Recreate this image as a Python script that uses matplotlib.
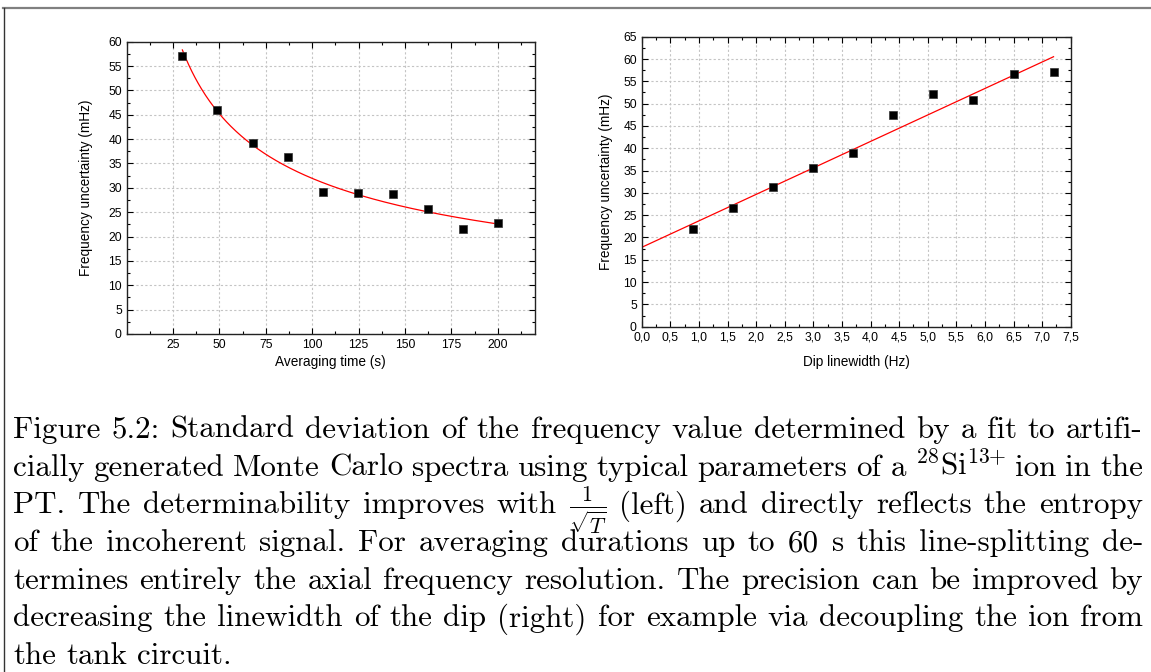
import numpy as np
import matplotlib
matplotlib.use('Agg')
import matplotlib.pyplot as plt
from matplotlib.ticker import MultipleLocator, FixedLocator, FuncFormatter
from matplotlib.lines import Line2D

plt.rcParams['font.family'] = ['Liberation Sans', 'DejaVu Sans']
plt.rcParams['mathtext.fontset'] = 'cm'

# 左图: 平均时间 vs 频率不确定度
avg_time = [30, 48.9, 67.8, 86.7, 105.6, 124.4, 143.3, 162.2, 181.1, 200]
unc_time = [57.0, 46.0, 39.2, 36.4, 29.2, 28.9, 28.8, 25.6, 21.6, 22.8]

# 右图: dip 线宽 vs 频率不确定度
dip_width = [0.9, 1.6, 2.3, 3.0, 3.7, 4.4, 5.1, 5.8, 6.5, 7.2]
unc_width = [21.8, 26.5, 31.2, 35.5, 38.9, 47.5, 52.2, 50.9, 56.7, 57.0]

caption_lines = [
    "Figure 5.2:  Standard deviation of the frequency value determined by a fit to artifi-",
    "cially generated Monte Carlo spectra using typical parameters of a $^{28}$Si$^{13{+}}$ ion in the",
    r"PT. The determinability improves with $\frac{1}{\sqrt{T}}$ (left) and directly reflects the entropy",
    "of the incoherent signal.  For averaging durations up to 60 s this line-splitting de-",
    "termines entirely the axial frequency resolution.  The precision can be improved by",
    "decreasing the linewidth of the dip (right) for example via decoupling the ion from",
    "the tank circuit.",
]

W, H = 1151, 672
fig = plt.figure(figsize=(W / 100, H / 100), dpi=100)


def style_axes(ax):
    ax.set_axisbelow(True)
    ax.grid(True, which='major', color='#c4c4c4', linestyle=(0, (2, 2)), linewidth=0.8)
    ax.tick_params(which='both', direction='in', top=True, right=True, labelsize=8.7, pad=3.5)
    ax.tick_params(which='major', length=4.5, width=0.8)
    ax.tick_params(which='minor', length=2.5, width=0.8)
    for s in ax.spines.values():
        s.set_linewidth(1.0)
        s.set_color('#222222')


# 左图
ax1 = fig.add_axes([126.7 / W, 1 - 334 / H, (535 - 126.7) / W, (334 - 41.7) / H])
a_fit = np.sum(np.array(unc_time) / np.sqrt(avg_time)) / np.sum(1 / np.array(avg_time))
tt = np.linspace(min(avg_time), max(avg_time), 300)
ax1.plot(tt, a_fit / np.sqrt(tt), color='red', lw=0.9, zorder=2)
ax1.plot(avg_time, unc_time, 's', color='black', ms=5.2, mec='#333333', mew=0.5, zorder=3)
ax1.set_xlim(0, 220)
ax1.set_ylim(0, 60)
ax1.xaxis.set_major_locator(FixedLocator([25, 50, 75, 100, 125, 150, 175, 200]))
ax1.xaxis.set_minor_locator(MultipleLocator(12.5))
ax1.yaxis.set_major_locator(MultipleLocator(5))
ax1.yaxis.set_minor_locator(MultipleLocator(2.5))
style_axes(ax1)
ax1.set_xlabel('Averaging time (s)', fontsize=9.8, labelpad=3)
ax1.set_ylabel('Frequency uncertainty (mHz)', fontsize=9.8, labelpad=11)

# 右图
ax2 = fig.add_axes([641.7 / W, 1 - 326.7 / H, (1070.7 - 641.7) / W, (326.7 - 36.7) / H])
k, b = np.polyfit(dip_width, unc_width, 1)
xx = np.linspace(0, max(dip_width), 100)
ax2.plot(xx, k * xx + b, color='red', lw=0.9, zorder=2)
ax2.plot(dip_width, unc_width, 's', color='black', ms=5.2, mec='#333333', mew=0.5, zorder=3)
ax2.set_xlim(0, 7.5)
ax2.set_ylim(0, 65)
ax2.xaxis.set_major_locator(MultipleLocator(0.5))
ax2.xaxis.set_minor_locator(MultipleLocator(0.25))
ax2.yaxis.set_major_locator(MultipleLocator(5))
ax2.yaxis.set_minor_locator(MultipleLocator(2.5))
ax2.xaxis.set_major_formatter(FuncFormatter(lambda v, p: f'{v:.1f}'.replace('.', ',')))
style_axes(ax2)
ax2.set_xlabel('Dip linewidth (Hz)', fontsize=9.8, labelpad=8)
ax2.set_ylabel('Frequency uncertainty (mHz)', fontsize=9.8, labelpad=7)

# 页面边框
fig.add_artist(Line2D([3 / W, 1], [1 - 7.5 / H, 1 - 7.5 / H], transform=fig.transFigure,
                      color='#808080', lw=1.6))
fig.add_artist(Line2D([3.5 / W, 3.5 / W], [0, 1 - 7.5 / H], transform=fig.transFigure,
                      color='#333333', lw=1.0))

# 图注, 两端对齐
renderer = fig.canvas.get_renderer()
x_left, x_right = 13, 1143
base0, step = 438, 37.7
fs = 22.3
for i, line in enumerate(caption_lines):
    words = [w for w in line.split(' ') if w]
    y = 1 - (base0 + i * step) / H
    objs = [fig.text(0, y, w, fontsize=fs, family='cmr10', va='baseline', ha='left')
            for w in words]
    widths = [o.get_window_extent(renderer).width for o in objs]
    if i < len(caption_lines) - 1:
        gap = (x_right - x_left - sum(widths)) / (len(words) - 1)
    else:
        gap = fs * 100 / 72 * 0.333
    x = x_left
    for o, w in zip(objs, widths):
        o.set_x(x / W)
        x += w + gap

fig.savefig('out.png', dpi=100)
